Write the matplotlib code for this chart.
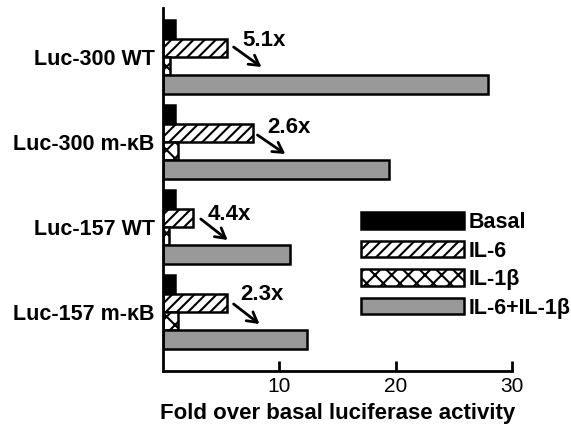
import matplotlib
matplotlib.use("Agg")
import matplotlib.pyplot as plt
import numpy as np

plt.rcParams['font.family'] = ['Liberation Sans', 'DejaVu Sans']
plt.rcParams['hatch.linewidth'] = 1.5

constructs = ["Luc-300 WT", "Luc-300 m-κB", "Luc-157 WT", "Luc-157 m-κB"]
basal = [1.0, 1.0, 1.0, 1.0]
il6 = [5.5, 7.7, 2.6, 5.5]
il1b = [0.6, 1.3, 0.5, 1.3]
combo = [27.9, 19.4, 10.9, 12.4]
fold_labels = ["5.1x", "2.6x", "4.4x", "2.3x"]
series_names = ["Basal", "IL-6", "IL-1β", "IL-6+IL-1β"]
xticks = [10, 20, 30]

fig = plt.figure(figsize=(5.71, 4.34), dpi=100)
ax = fig.add_axes([163/571, 1-371/434, (512-163)/571, (371-8)/434])

h = 0.215
y = np.arange(len(constructs))
styles = [
    dict(color='black', edgecolor='black'),
    dict(color='white', edgecolor='black', hatch='///'),
    dict(color='white', edgecolor='black', hatch='xx'),
    dict(color='#999999', edgecolor='black'),
]
data = [basal, il6, il1b, combo]
offs = [-1.5, -0.5, 0.5, 1.5]
for vals, st, off, name in zip(data, styles, offs, series_names):
    ax.barh(y + off*h, vals, height=h, linewidth=1.8, label=name, **st)

ax.set_xlim(0, 30)
ax.set_ylim(3 + (371-312)/85, -(57-8)/85)
ax.set_yticks(y)
ax.set_yticklabels(constructs, fontsize=15.5, fontweight='bold')
ax.tick_params(axis='y', length=0, pad=6)
ax.set_xticks(xticks)
ax.tick_params(axis='x', direction='in', length=7, width=2, labelsize=15, pad=4)
for s in ['top', 'right']:
    ax.spines[s].set_visible(False)
for s in ['left', 'bottom']:
    ax.spines[s].set_linewidth(2)
ax.set_xlabel("Fold over basal luciferase activity", fontsize=16, fontweight='bold', labelpad=5)

# annotations: (text center, arrow start, arrow end) in pixel estimates converted to data units
px = lambda p: (p - 162) / 11.7
py = lambda p: (p - 57) / 85
ann = [
    ((264, 41), (233, 47), (261, 67)),
    ((289, 128), (257, 135), (285, 154)),
    ((229, 215), (200, 219), (227, 240)),
    ((262, 295), (233, 304), (259, 324)),
]
for lab, (t, a0, a1) in zip(fold_labels, ann):
    ax.text(px(t[0]), py(t[1]), lab, fontsize=16, fontweight='bold', ha='center', va='center')
    ax.annotate('', xy=(px(a1[0]), py(a1[1])), xytext=(px(a0[0]), py(a0[1])),
                arrowprops=dict(arrowstyle='->,head_length=0.7,head_width=0.4', lw=2, color='black',
                                shrinkA=0, shrinkB=0))

leg = ax.legend(loc='upper left', bbox_to_anchor=(361/571, 1-212/434), bbox_transform=fig.transFigure,
                frameon=False, prop=dict(weight='bold', size=15.5), handlelength=4.8, handleheight=0.8,
                handletextpad=0.2, labelspacing=0.35, borderpad=0, borderaxespad=0)

fig.savefig("out.png", dpi=100)
